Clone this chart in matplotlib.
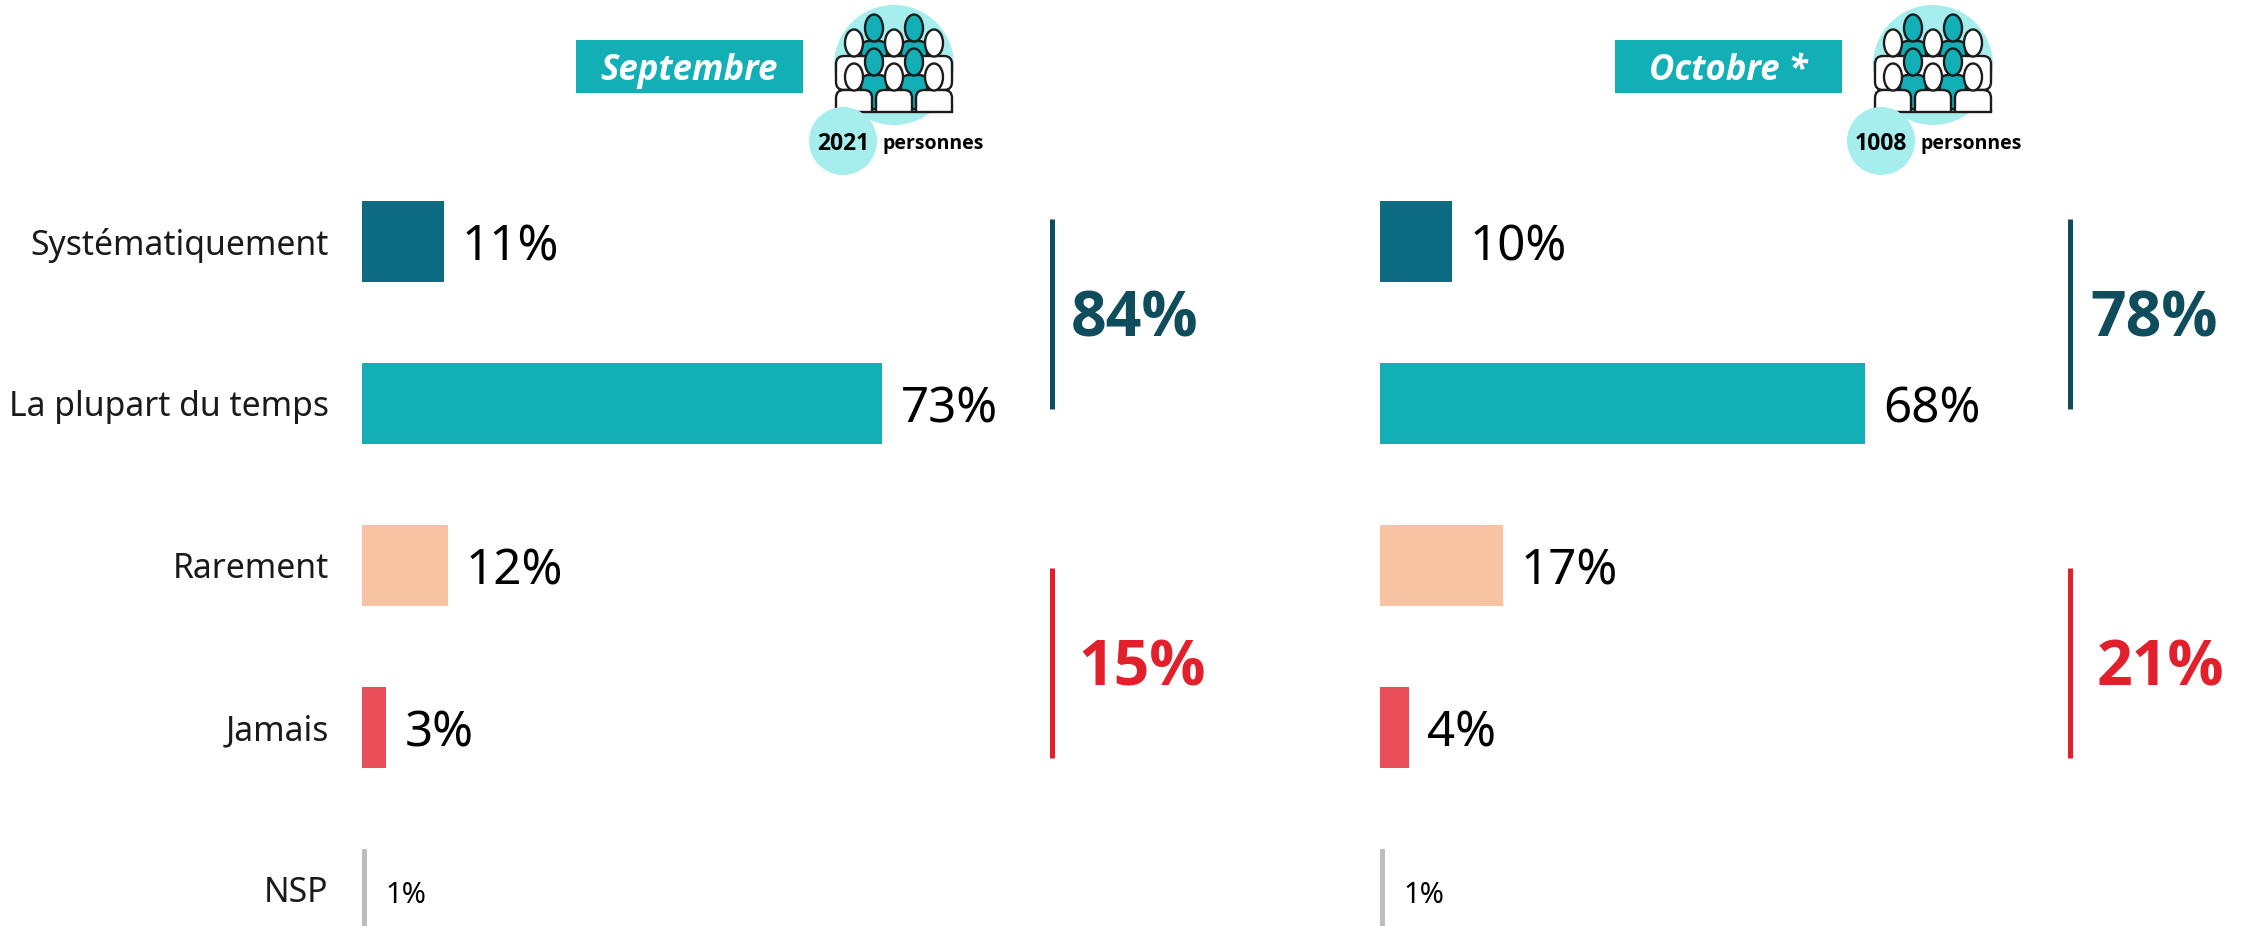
import matplotlib
matplotlib.use("Agg")
import matplotlib.pyplot as plt
from matplotlib.patches import Circle, Ellipse, FancyBboxPatch, Rectangle

W, H = 2242, 926
plt.rcParams['font.family'] = ['Noto Sans', 'DejaVu Sans']
BOLD = ['Open Sans', 'Lato', 'DejaVu Sans']

categories = ["Systématiquement", "La plupart du temps", "Rarement", "Jamais", "NSP"]
sept_values = [11.5, 73.0, 12.0, 3.4, 0.7]
sept_labels = ["11%", "73%", "12%", "3%", "1%"]
oct_values = [10.1, 68.0, 17.2, 4.0, 0.7]
oct_labels = ["10%", "68%", "17%", "4%", "1%"]
sept_totals = ["84%", "15%"]
oct_totals = ["78%", "21%"]
sept_title = "Septembre"
oct_title = "Octobre *"
sept_count = "2021"
oct_count = "1008"

bar_colors = ["#0d6b82", "#13afb7", "#f8c3a2", "#e94f58", "#bdbdbd"]
dark = "#0f4c5c"
red = "#e2202c"
teal = "#13afb7"
pale = "#a6eeee"
ink = "#1a1a1a"

PX_PER_PCT = 7.13
ROW = 162
FIRST = 241

fig = plt.figure(figsize=(W / 100, H / 100), dpi=100)

# pixel layer for the headers, icons and brackets
bg = fig.add_axes([0, 0, 1, 1])
bg.set_xlim(0, W)
bg.set_ylim(H, 0)
bg.axis("off")


def draw_person(x, y, color, wide, clip):
    body = FancyBboxPatch((x - wide / 2, y + 13), wide, 34, boxstyle="round,pad=0,rounding_size=8",
                          fc=color, ec="#1c1c1c", lw=1.7, zorder=3)
    head = Ellipse((x, y), 18, 27, fc=color, ec="#1c1c1c", lw=1.7, zorder=3)
    for p in (body, head):
        bg.add_patch(p)
        p.set_clip_path(clip)


def draw_crowd(cx, cy):
    clip = Rectangle((cx - 62, cy - 60), 124, 107, transform=bg.transData)
    for row_y, xs, color, wide in [(-37, (-20, 20), teal, 26), (-22, (-40, 0, 40), "white", 36),
                                   (-3, (-20, 20), teal, 26), (12, (-40, 0, 40), "white", 36)]:
        for dx in xs:
            draw_person(cx + dx, cy + row_y, color, wide, clip)
    bg.plot([cx - 58, cx + 58], [cy + 47, cy + 47], color="#1c1c1c", lw=1.7, zorder=5)


def draw_header(rect_x, title, cx, small_x, count, text_x):
    bg.add_patch(Rectangle((rect_x, 40), 227, 53, fc=teal, ec="none"))
    bg.text(rect_x + 113, 71, title, color="white", fontsize=25, fontweight="bold",
            style="italic", family=BOLD, ha="center", va="center")
    bg.add_patch(Circle((cx, 65), 60, fc=pale, ec="none", zorder=1))
    draw_crowd(cx, 65)
    bg.add_patch(Circle((small_x, 141), 34, fc=pale, ec="none", zorder=6))
    bg.text(small_x, 144, count, color="black", fontsize=16.5, fontweight="bold", family=BOLD,
            ha="center", va="center", zorder=7)
    bg.text(text_x, 144, "personnes", color="black", fontsize=14, fontweight="bold", family=BOLD,
            ha="left", va="center", zorder=7)


def draw_totals(x, text_x, totals):
    bg.plot([x, x], [219, 409], color=dark, lw=3.6, solid_capstyle="butt")
    bg.plot([x, x], [568, 758], color=red, lw=3.6, solid_capstyle="butt")
    bg.text(text_x, 320, totals[0], color=dark, fontsize=45, fontweight="bold", family=BOLD,
            ha="left", va="center")
    bg.text(text_x + 7, 669, totals[1], color=red, fontsize=45, fontweight="bold", family=BOLD,
            ha="left", va="center")


def draw_bars(zero_px, values, labels):
    ax = fig.add_axes([0, 0, 1, 1])
    ax.patch.set_alpha(0)
    ax.set_xlim(-zero_px / PX_PER_PCT, (W - zero_px) / PX_PER_PCT)
    ax.set_ylim((H - FIRST) / ROW, -FIRST / ROW)
    ax.axis("off")
    ax.barh(range(len(values)), values, height=81 / ROW, color=bar_colors)
    for i, (v, lab) in enumerate(zip(values, labels)):
        small = i == len(values) - 1
        ax.annotate(lab, (v, i), xytext=(13, -5), textcoords="offset points",
                    fontsize=21 if small else 35.5, color="black", va="center", ha="left")
    return ax


draw_header(576, sept_title, 894, 843, sept_count, 883)
draw_header(1615, oct_title, 1933, 1881, oct_count, 1921)
draw_totals(1052, 1071, sept_totals)
draw_totals(2070, 2090, oct_totals)

left = draw_bars(362, sept_values, sept_labels)
draw_bars(1380, oct_values, oct_labels)
for i, cat in enumerate(categories):
    left.annotate(cat, (0, i), xytext=(-24, -3), textcoords="offset points",
                  fontsize=24.3, color=ink, ha="right", va="center")

fig.savefig("out.png", dpi=100)
